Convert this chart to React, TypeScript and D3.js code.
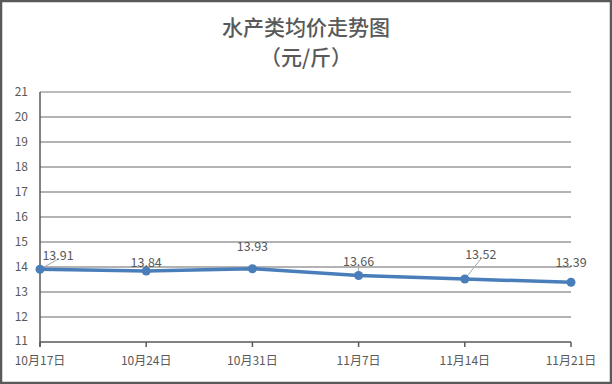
import React from "react";
import * as d3 from "d3";

const categories = ["10月17日", "10月24日", "10月31日", "11月7日", "11月14日", "11月21日"];
const values = [13.91, 13.84, 13.93, 13.66, 13.52, 13.39];
const yTicks = [11, 12, 13, 14, 15, 16, 17, 18, 19, 20, 21];
// label offsets (dx, dy) relative to point, and whether a leader line is drawn
const labelDx = [18, 0, 0, 0, 16, 0];
const labelDy = [-14, -8, -22, -14, -24, -20];
const leader = [true, false, false, true, true, false];

const W = 612, H = 384;
const M = { left: 40, right: 41, top: 92, bottom: 42 };

export default function App() {
  const x = d3.scalePoint<string>().domain(categories).range([M.left, W - M.right]);
  const y = d3.scaleLinear().domain([11, 21]).range([H - M.bottom, M.top]);
  const line = d3.line<number>().x((_, i) => x(categories[i])!).y((d) => y(d));
  const font = "'Microsoft YaHei', 'Noto Sans CJK SC', 'DejaVu Sans', sans-serif";
  const textColor = "#595959";
  return (
    <svg width={W} height={H} style={{ position: "absolute", left: 0, top: 0 }}>
      <rect x={0} y={0} width={W} height={H} fill="#fff" />
      <rect x={1} y={1} width={W - 2} height={H - 2} fill="none" stroke="#595959" strokeWidth={2.5} />
      <text x={W / 2} y={35} textAnchor="middle" fontFamily={font} fontSize={21} fontWeight={500} fill={textColor}>水产类均价走势图</text>
      <text x={W / 2} y={65} textAnchor="middle" fontFamily={font} fontSize={21} fontWeight={500} fill={textColor}>（元/斤）</text>
      {yTicks.map((t) => (
        <g key={t}>
          {t !== 11 && (
            <line x1={M.left} x2={W - M.right} y1={y(t)} y2={y(t)} stroke={t === 21 ? "#a6a6a6" : "#9a9a9a"} strokeWidth={1.3} />
          )}
          <text x={28} y={y(t) - (t === 11 ? 1 : 0)} dy="0.35em" textAnchor="end" fontFamily={font} fontSize={12} fill={textColor}>{t}</text>
        </g>
      ))}
      <line x1={M.left} x2={M.left} y1={M.top} y2={y(11) + 5} stroke="#595959" strokeWidth={1.5} />
      <line x1={M.left} x2={W - M.right} y1={y(11)} y2={y(11)} stroke="#595959" strokeWidth={1.5} />
      {categories.map((c) => (
        <g key={c}>
          <line x1={x(c)} x2={x(c)} y1={y(11)} y2={y(11) + 5} stroke="#595959" strokeWidth={1.5} />
          <text x={x(c)} y={365} textAnchor="middle" fontFamily={font} fontSize={12} fill={textColor}>{c}</text>
        </g>
      ))}
      {values.map((v, i) =>
        leader[i] ? (
          <line key={"l" + i} x1={x(categories[i])} y1={y(v)} x2={x(categories[i])! + labelDx[i]} y2={y(v) + labelDy[i] + 4} stroke="#a6a6a6" strokeWidth={1} />
        ) : null
      )}
      <path d={line(values)!} fill="none" stroke="#4a7ebb" strokeWidth={3.5} strokeLinejoin="round" />
      {values.map((v, i) => (
        <circle key={i} cx={x(categories[i])} cy={y(v)} r={4.5} fill="#4a7ebb" />
      ))}
      {values.map((v, i) => (
        <text key={"t" + i} x={x(categories[i])! + labelDx[i]} y={y(v) + labelDy[i]} dy="0.35em" textAnchor="middle" fontFamily={font} fontSize={12.5} fill={textColor}>{v.toFixed(2)}</text>
      ))}
    </svg>
  );
}
